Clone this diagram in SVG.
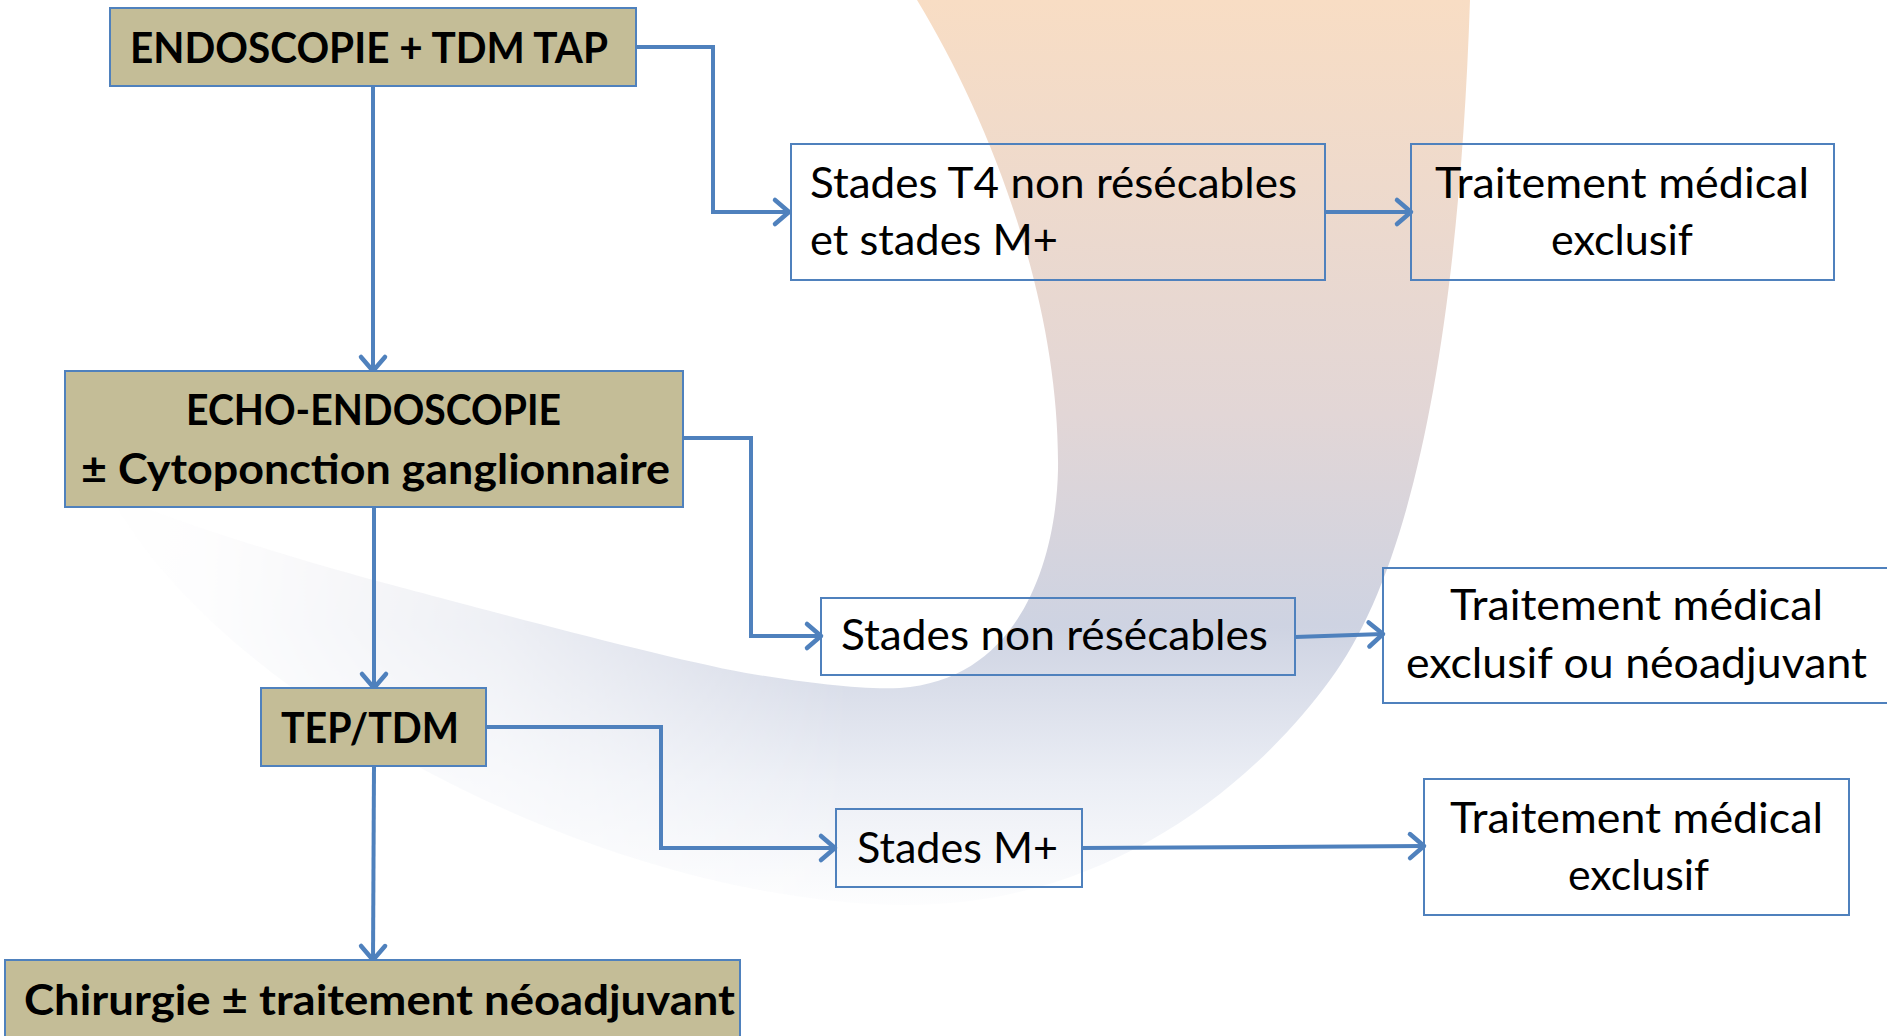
<svg xmlns="http://www.w3.org/2000/svg" width="1887" height="1036" viewBox="0 0 1887 1036">
<defs>
<linearGradient id="swG" x1="0" y1="0" x2="0" y2="920" gradientUnits="userSpaceOnUse">
<stop offset="0" stop-color="#F8DDC4"/>
<stop offset="0.45" stop-color="#E2D6D6"/>
<stop offset="0.68" stop-color="#CED3E2"/>
<stop offset="0.85" stop-color="#EBEEF5"/>
<stop offset="1" stop-color="#FFFFFF"/>
</linearGradient>
<linearGradient id="mkG" x1="0" y1="0" x2="1000" y2="0" gradientUnits="userSpaceOnUse">
<stop offset="0" stop-color="#000"/>
<stop offset="0.2" stop-color="#0a0a0a"/>
<stop offset="0.5" stop-color="#5a5a5a"/>
<stop offset="0.85" stop-color="#fff"/>
<stop offset="1" stop-color="#fff"/>
</linearGradient>
<filter id="soft" x="-0.1" y="-0.1" width="1.2" height="1.2">
<feGaussianBlur stdDeviation="22"/>
</filter>
<mask id="swM" maskUnits="userSpaceOnUse" x="0" y="0" width="1887" height="1036">
<rect x="0" y="0" width="1887" height="1036" fill="url(#mkG)"/>
</mask>
<marker id="arr" markerUnits="userSpaceOnUse" markerWidth="28" markerHeight="32" refX="22" refY="16" orient="auto" overflow="visible">
<path d="M8,4 L22,16 L8,28" fill="none" stroke="#4F81BD" stroke-width="4.5" stroke-linecap="round" stroke-linejoin="round"/>
</marker>
</defs>
<style>
.tan{fill:#C4BD97;stroke:#4F81BD;stroke-width:2}
.wht{fill:#FFFFFF;fill-opacity:0.0;stroke:#4F81BD;stroke-width:2}
.b{font-family:Lato,"Liberation Sans",sans-serif;font-weight:bold;font-size:42px;fill:#000}
.r{font-family:Lato,"Liberation Sans",sans-serif;font-size:42px;fill:#000}
.c{fill:none;stroke:#4F81BD;stroke-width:4;marker-end:url(#arr)}
</style>
<rect x="0" y="0" width="1887" height="1036" fill="#FFFFFF"/>
<g id="background">
<path d="M917,0 C990,120 1060,300 1058,470 C1056,560 1020,680 900,688 C860,690 800,682 746,673 C650,655 450,600 373,580 C300,560 200,530 110,495 C220,700 600,900 900,905 C1100,908 1250,790 1330,680 C1420,560 1460,300 1470,0 Z" fill="url(#swG)" mask="url(#swM)"/>
</g>
<g id="connectors">
<polyline class="c" points="636,47 713,47 713,212 789,212"/>
<polyline class="c" points="373,86 373,371"/>
<polyline class="c" points="1325,212 1411,212"/>
<polyline class="c" points="683,438 751,438 751,636 821,636"/>
<polyline class="c" points="374,507 374,688"/>
<polyline class="c" points="1295,637 1383,634"/>
<polyline class="c" points="486,727 661,727 661,848 835,848"/>
<polyline class="c" points="374,766 373,960"/>
<polyline class="c" points="1082,848 1424,846"/>
</g>
<g id="n1">
<rect class="tan" x="110" y="8" width="526" height="78"/>
<text class="b" x="130" y="63" textLength="478" lengthAdjust="spacingAndGlyphs">ENDOSCOPIE + TDM TAP</text>
</g>
<g id="n2">
<rect class="tan" x="65" y="371" width="618" height="136"/>
<text class="b" x="186" y="425" textLength="375" lengthAdjust="spacingAndGlyphs">ECHO-ENDOSCOPIE</text>
<text class="b" x="81" y="484" textLength="589" lengthAdjust="spacingAndGlyphs">± Cytoponction ganglionnaire</text>
</g>
<g id="n3">
<rect class="tan" x="261" y="688" width="225" height="78"/>
<text class="b" x="281" y="743" textLength="178" lengthAdjust="spacingAndGlyphs">TEP/TDM</text>
</g>
<g id="n4">
<rect class="tan" x="5" y="960" width="735" height="90"/>
<text class="b" x="24" y="1015" textLength="711" lengthAdjust="spacingAndGlyphs">Chirurgie ± traitement néoadjuvant</text>
</g>
<g id="n5">
<rect class="wht" x="791" y="144" width="534" height="136"/>
<text class="r" x="810" y="198" textLength="487" lengthAdjust="spacingAndGlyphs">Stades T4 non résécables</text>
<text class="r" x="810" y="255" textLength="248" lengthAdjust="spacingAndGlyphs">et stades M+</text>
</g>
<g id="n6">
<rect class="wht" x="1411" y="144" width="423" height="136"/>
<text class="r" x="1435" y="198" textLength="374" lengthAdjust="spacingAndGlyphs">Traitement médical</text>
<text class="r" x="1551" y="255" textLength="142" lengthAdjust="spacingAndGlyphs">exclusif</text>
</g>
<g id="n7">
<rect class="wht" x="821" y="598" width="474" height="77"/>
<text class="r" x="841" y="650" textLength="427" lengthAdjust="spacingAndGlyphs">Stades non résécables</text>
</g>
<g id="n8">
<rect class="wht" x="1383" y="568" width="520" height="135"/>
<text class="r" x="1450" y="620" textLength="373" lengthAdjust="spacingAndGlyphs">Traitement médical</text>
<text class="r" x="1406" y="678" textLength="461" lengthAdjust="spacingAndGlyphs">exclusif ou néoadjuvant</text>
</g>
<g id="n9">
<rect class="wht" x="836" y="809" width="246" height="78"/>
<text class="r" x="857" y="863" textLength="201" lengthAdjust="spacingAndGlyphs">Stades M+</text>
</g>
<g id="n10">
<rect class="wht" x="1424" y="779" width="425" height="136"/>
<text class="r" x="1450" y="833" textLength="373" lengthAdjust="spacingAndGlyphs">Traitement médical</text>
<text class="r" x="1568" y="890" textLength="141" lengthAdjust="spacingAndGlyphs">exclusif</text>
</g>
</svg>
